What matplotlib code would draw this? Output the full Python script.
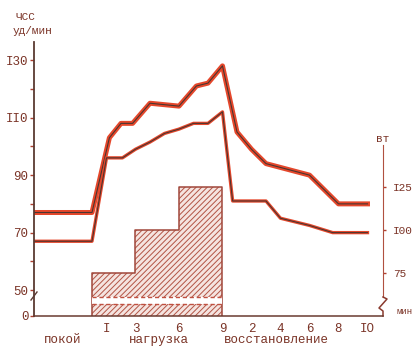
import numpy as np
import matplotlib.pyplot as plt
from matplotlib.patches import Rectangle
from matplotlib.transforms import blended_transform_factory

# ЧСС (уд/мин) по времени, мин от начала нагрузки
t_upper = [-4, 0, 1.2, 2, 2.8, 4, 6, 7.2, 8, 9, 10, 11, 12, 13.5, 15, 17, 19]
hr_upper = [77, 77, 103, 108, 108, 115, 114, 121, 122, 128, 105, 99, 94, 92, 90, 80, 80]

t_lower = [-4, 0, 1, 2.1, 3, 4, 5, 6, 7, 8, 9, 9.7, 12, 13, 15, 16.6, 19]
hr_lower = [67, 67, 96, 96, 99, 101.5, 104.5, 106, 108, 108, 112, 81, 81, 75, 72.5, 70, 70]

# ступени нагрузки, Вт
load_start = [0, 3, 6]
load_end = [3, 6, 9]
load_w = [75, 100, 125]

hr_ticks = [41, 50, 60, 70, 80, 90, 100, 110, 120, 130]
hr_labels = ['0', '50', '', '70', '', '90', '', 'II0', '', 'I30']
w_ticks = [75, 100, 125]
w_labels = ['75', 'I00', 'I25']
t_ticks = [1, 3, 6, 9, 11, 13, 15, 17, 19]
t_labels = ['I', '3', '6', '9', '2', '4', '6', '8', 'IO']
phases = ['покой', 'нагрузка', 'восстановление']
phase_pos = [-2.0, 4.6, 12.75]

red = '#e5472b'
dark = '#4b3530'
ink = '#7a3326'

plt.rcParams['font.family'] = ['Liberation Mono', 'DejaVu Sans Mono']
plt.rcParams['hatch.linewidth'] = 0.7

W, H = 414, 347
fig = plt.figure(figsize=(W / 100, H / 100), dpi=100)
ax = fig.add_axes([34 / W, 1 - 316 / H, 349 / W, 274 / H])
ax.set_xlim(-4, 20.07)
ax.set_ylim(41, 136.3)
ax2 = ax.twinx()
ax2.set_ylim(50, 209.3)
ax.set_zorder(ax2.get_zorder() + 1)
ax.patch.set_visible(False)

# нагрузка
widths = np.subtract(load_end, load_start)
ax2.bar(load_start, np.subtract(load_w, 50), width=widths, bottom=50, align='edge',
        facecolor='#f5e4e0', edgecolor='#b25444', hatch='//////', linewidth=0)
ox, oy = [load_start[0]], [50]
for s, e, w in zip(load_start, load_end, load_w):
    ox += [s, e]
    oy += [w, w]
ox.append(load_end[-1])
oy.append(50)
ax2.plot(ox, oy, color='#a0473a', lw=1.1)

# разрыв шкалы
tr = blended_transform_factory(ax2.transData, ax2.transAxes)
ax2.add_patch(Rectangle((load_start[0], 0.044), load_end[-1] - load_start[0], 0.025,
                        transform=tr, facecolor='white', edgecolor='none', zorder=3))
for yy in (0.044, 0.069):
    ax2.plot([load_start[0], load_end[-1]], [yy, yy], transform=tr, color='#c05040',
             lw=1, ls=(0, (3, 2)), zorder=4)

# ЧСС
for t, hr, lw in [(t_upper, hr_upper, 3.6), (t_lower, hr_lower, 2.4)]:
    ax.plot(t, hr, color=red, lw=lw)
    ax.plot(t, hr, color=dark, lw=0.8)

# оси
for s in ['top', 'right']:
    ax.spines[s].set_visible(False)
for s in ['top', 'left', 'bottom']:
    ax2.spines[s].set_visible(False)
ax.spines['left'].set_color('#5a3a32')
ax.spines['left'].set_linewidth(1.3)
ax.spines['bottom'].set_color('#6a3a30')
ax.spines['bottom'].set_linewidth(1.1)
ax2.spines['right'].set_bounds(61, 149.4)
ax2.spines['right'].set_color('#b05040')
ax2.spines['right'].set_linestyle((0, (2, 1)))

ax.set_yticks(hr_ticks)
ax.set_yticklabels(hr_labels)
ax.tick_params(axis='y', direction='out', length=3, width=1, color='#b04030',
               labelsize=9, labelcolor=ink, pad=1)
ax.set_xticks(t_ticks)
ax.set_xticklabels(t_labels)
ax.tick_params(axis='x', length=0, labelsize=9, labelcolor=ink, pad=5)
ax2.set_yticks(w_ticks)
ax2.set_yticklabels(w_labels)
ax2.tick_params(axis='y', direction='out', length=2, width=1, color='#b04030',
                labelsize=8, labelcolor=ink, pad=5)

tr_x = blended_transform_factory(ax.transData, ax.transAxes)
for name, pos in zip(phases, phase_pos):
    ax.text(pos, -0.0876, name, transform=tr_x, ha='center', va='center',
            fontsize=9, color=ink)

def axc(x, y):
    return (x - 34) / 349, (316 - y) / 274

# знаки разрыва
p = [axc(31, 300), axc(37, 292)]
ax.plot([a for a, b in p], [b for a, b in p], transform=ax.transAxes, color='#5a3a32',
        lw=1, clip_on=False)
p = [axc(383, 297), axc(387, 299), axc(379, 308), axc(383, 311), axc(383, 316)]
ax.plot([a for a, b in p], [b for a, b in p], transform=ax.transAxes, color='#8a3a2e',
        lw=1.1, clip_on=False)

fig.text(25 / W, 1 - 17 / H, 'ЧСС', ha='center', va='center', fontsize=8, color=ink)
fig.text(33 / W, 1 - 31 / H, 'уд/мин', ha='center', va='center', fontsize=8, color=ink)
fig.text(383 / W, 1 - 139 / H, 'вт', ha='center', va='center', fontsize=8, color=ink)
fig.text(397 / W, 1 - 312 / H, 'мин', ha='left', va='center', fontsize=6.5, color=ink)

fig.savefig('out.png', dpi=100)
